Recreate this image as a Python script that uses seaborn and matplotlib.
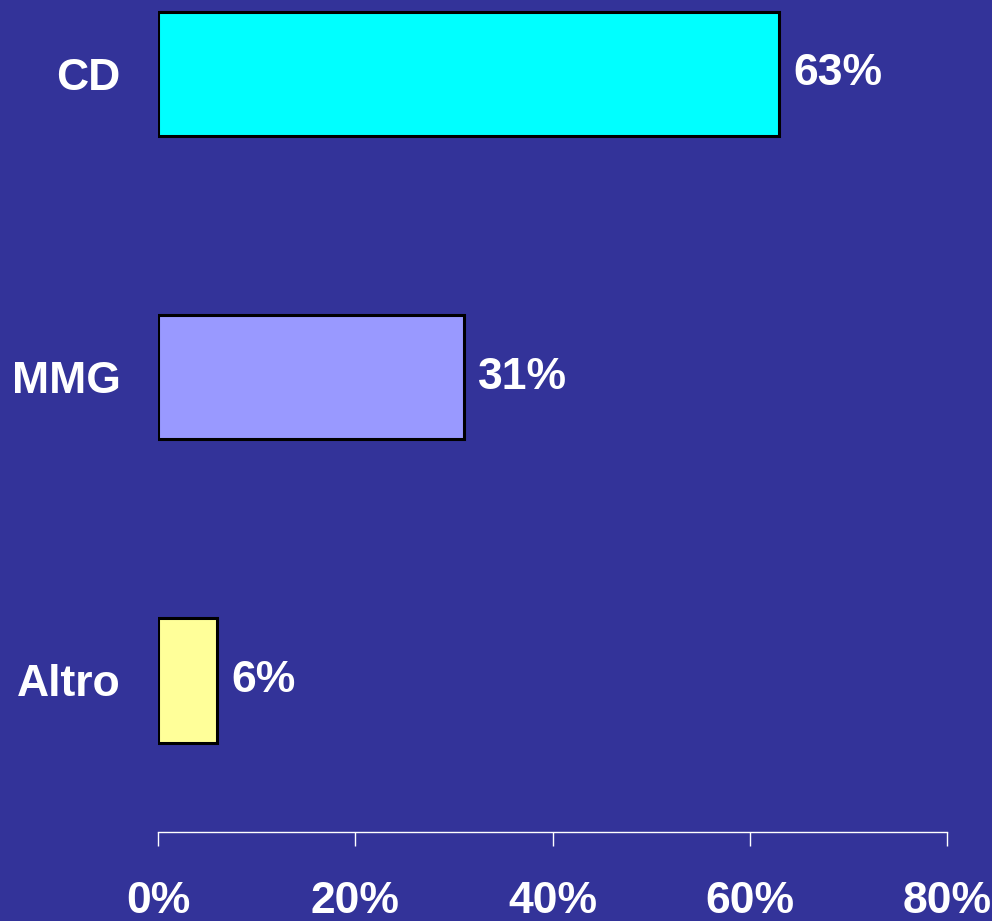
import matplotlib
matplotlib.use("Agg")
import matplotlib.pyplot as plt
import seaborn as sns
import pandas as pd

categories = ["CD", "MMG", "Altro"]
shares = [63, 31, 6]
bar_colors = ["#00FFFF", "#9999FF", "#FFFF99"]
x_ticks = [0, 20, 40, 60, 80]
x_tick_labels = ["0%", "20%", "40%", "60%", "80%"]

BG = "#333399"
FS = 32

sns.set_theme(style="white")
plt.rcParams["font.family"] = ["Liberation Sans", "DejaVu Sans"]
plt.rcParams["font.weight"] = "bold"

df = pd.DataFrame({"categoria": categories, "quota": shares})

fig = plt.figure(figsize=(9.92, 9.21), dpi=100, facecolor=BG)
ax = fig.add_axes([158 / 992, 1 - 832 / 921, (947 - 158) / 992, 832 / 921])
ax.set_facecolor(BG)

sns.barplot(
    data=df, y="categoria", x="quota", hue="categoria",
    palette=dict(zip(categories, bar_colors)), order=categories,
    orient="h", width=0.41, edgecolor="black", linewidth=2.2,
    saturation=1, legend=False, ax=ax,
)

for cont in ax.containers:
    ax.bar_label(cont, labels=[f"{v:.0f}%" for v in cont.datavalues],
                 padding=10, color="white", fontsize=FS, fontweight="bold")

ax.set_xlim(0, 80)
ax.set_ylim(2.5, -0.244)
ax.set_xticks(x_ticks)
ax.set_xticklabels(x_tick_labels)
ax.set_xlabel("")
ax.set_ylabel("")

for side in ["top", "right", "left"]:
    ax.spines[side].set_visible(False)
ax.spines["bottom"].set_color("white")
ax.spines["bottom"].set_linewidth(1)

ax.tick_params(axis="x", direction="out", length=10, width=1, color="white",
               labelcolor="white", labelsize=FS, pad=25, bottom=True)
ax.tick_params(axis="y", length=0, pad=27, labelcolor="white", labelsize=FS)
for lbl in ax.get_xticklabels() + ax.get_yticklabels():
    lbl.set_fontweight("bold")

fig.savefig("out.png", dpi=100, facecolor=BG)
